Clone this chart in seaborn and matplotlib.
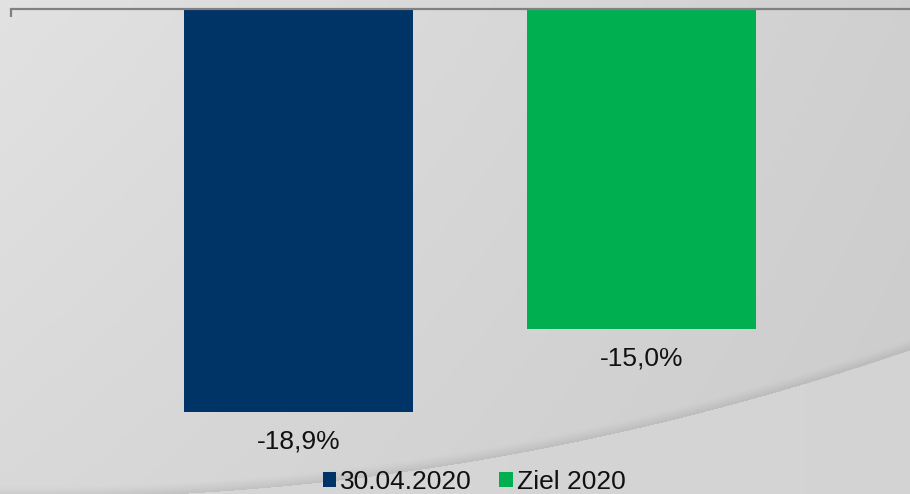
import numpy as np
import pandas as pd
import matplotlib
matplotlib.use("Agg")
import matplotlib.pyplot as plt
import seaborn as sns

# chart data
categories = ["30.04.2020", "Ziel 2020"]
values = [-18.9, -15.0]
value_labels = ["-18,9%", "-15,0%"]
bar_colors = ["#003366", "#00B050"]

W, H, DPI = 910, 494, 100

sns.set_theme(style="white")
plt.rcParams["font.family"] = ["Liberation Sans", "DejaVu Sans"]

fig = plt.figure(figsize=(W / DPI, H / DPI), dpi=DPI)

# background: grey gradient with a lighter swoosh in the lower right
yy, xx = np.mgrid[0:H, 0:W].astype(float)
bg = 0.885 - 0.07 * (xx / W) - 0.035 * (yy / H) + 0.02 * (xx / W) * (yy / H)
cx = np.array([150, 300, 400, 500, 600, 700, 800, 910], dtype=float)
cy = np.array([494, 486, 472, 455, 437, 413, 383, 351], dtype=float)
curve = np.polyval(np.polyfit(cx, cy, 2), xx[0])
d = curve[None, :] - yy  # positive above the curve
below = d < 0
bg = np.where(below, 0.83 + 0.012 * (1 - xx / W), bg)
shadow = (d >= 0) & (d < 12)
bg = np.where(shadow, bg - 0.08 * (1 - d / 12) ** 1.3, bg)
bg_ax = fig.add_axes([0, 0, 1, 1], zorder=0)
bg_ax.imshow(np.dstack([bg, bg, bg]).clip(0, 1), aspect="auto", extent=(0, W, H, 0))
bg_ax.axis("off")

# main axes
top_px = 9
px_per_unit = 21.32
ax = fig.add_axes([11 / W, 0, (W - 11) / W, (H - top_px) / H], zorder=1)
ax.patch.set_alpha(0)

df = pd.DataFrame({"Kategorie": categories, "Wert": values})
sns.barplot(data=df, x="Kategorie", y="Wert", hue="Kategorie",
            palette=bar_colors, width=0.667, ax=ax, legend=True,
            saturation=1, linewidth=0, edgecolor="none")

spacing = 343.0
left_lim = -(298.5 - 11) / spacing
right_lim = left_lim + (W - 11) / spacing
ax.set_xlim(left_lim, right_lim)
ax.set_ylim(-(H - top_px) / px_per_unit, 0)

for i, (v, lab) in enumerate(zip(values, value_labels)):
    ax.annotate(lab, xy=(i, v), xytext=(0, -21.5), textcoords="offset points",
                ha="center", va="center", fontsize=19, color="#111111")

for s in ["left", "right", "bottom"]:
    ax.spines[s].set_visible(False)
ax.spines["top"].set_visible(True)
ax.spines["top"].set_color("#808080")
ax.spines["top"].set_linewidth(1.6)
ax.set_yticks([])
ax.xaxis.tick_top()
ax.set_xticks([left_lim])
ax.set_xticklabels([])
ax.tick_params(axis="x", direction="in", length=6, width=1.6, color="#808080",
               top=True, bottom=False)
ax.set_xlabel("")
ax.set_ylabel("")

leg = ax.legend(loc="center", bbox_to_anchor=(474 / W, 1 - 482 / H),
                bbox_transform=fig.transFigure, ncol=2, frameon=False,
                fontsize=19, handlelength=0.5, handleheight=0.5,
                handletextpad=0.15, columnspacing=1.05, borderpad=0)
for t in leg.get_texts():
    t.set_color("#111111")
for h in leg.legend_handles:
    h.set_edgecolor("none")
    h.set_linewidth(0)

fig.savefig("out.png", dpi=DPI)
